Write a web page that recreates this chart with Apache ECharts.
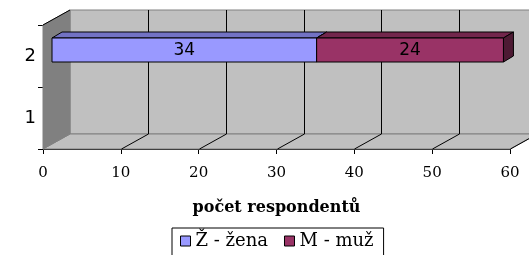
<!DOCTYPE html>
<html>
<head>
<meta charset="utf-8">
<script src="https://cdn.jsdelivr.net/npm/echarts@6/dist/echarts.min.js"></script>
<style>
  html, body { margin: 0; padding: 0; background: #fff; }
  #chart { width: 529px; height: 255px; }
</style>
</head>
<body>
<div id="chart"></div>
<script>
// data
var categories = ['1', '2']
var seriesNames = ['Ž - žena', 'M - muž']
var zeny = [null, 34]
var muzi = [null, 24]
var xTicks = [0, 10, 20, 30, 40, 50, 60]

// 3d look (Excel style)
var DX = 27, DY = -15        // depth of walls
var BX = 9, BY = -6          // front face of the bar behind the axis plane
var BDX = 10, BDY = -6       // depth of the bar itself
var BAR_H = 24

var colors = {
  front: ['#9999FF', '#993366'],
  top: ['#7272C4', '#72264C'],
  side: ['#6060AA', '#4D1A33']
}

var chart = echarts.init(document.getElementById('chart'))

function wallsRender(params, api) {
  var cs = params.coordSys
  var x0 = cs.x, y0 = cs.y, x1 = cs.x + cs.width, y1 = cs.y + cs.height
  var children = []
  // back wall
  children.push({
    type: 'polygon',
    shape: { points: [[x0 + DX, y0 + DY], [x1 + DX, y0 + DY], [x1 + DX, y1 + DY], [x0 + DX, y1 + DY]] },
    style: { fill: '#C0C0C0', stroke: '#808080', lineWidth: 1 }
  })
  // floor
  children.push({
    type: 'polygon',
    shape: { points: [[x0, y1], [x1, y1], [x1 + DX, y1 + DY], [x0 + DX, y1 + DY]] },
    style: { fill: '#C0C0C0', stroke: '#808080', lineWidth: 1 }
  })
  // left wall
  children.push({
    type: 'polygon',
    shape: { points: [[x0, y0], [x0 + DX, y0 + DY], [x0 + DX, y1 + DY], [x0, y1]] },
    style: { fill: '#808080', stroke: '#808080', lineWidth: 1 }
  })
  children.push({
    type: 'line',
    shape: { x1: x0, y1: y0, x2: x0 + DX, y2: y0 + DY },
    style: { stroke: '#000', lineWidth: 1 }
  })
  // grid lines on back wall and floor
  xTicks.forEach(function (t) {
    if (t === 0) return
    var px = Math.round(api.coord([t, 0])[0]) + 0.5
    children.push({
      type: 'line',
      shape: { x1: px + DX, y1: y0 + DY, x2: px + DX, y2: y1 + DY },
      style: { stroke: '#000', lineWidth: 1 }
    })
    children.push({
      type: 'line',
      shape: { x1: px, y1: y1, x2: px + DX, y2: y1 + DY },
      style: { stroke: '#000', lineWidth: 1 }
    })
  })
  return { type: 'group', children: children }
}

function barRender(idx) {
  return function (params, api) {
    var base = api.value(0)
    var val = api.value(1)
    var cat = api.value(2)
    if (val == null || isNaN(val)) return
    var p0 = api.coord([base, cat])
    var p1 = api.coord([base + val, cat])
    var xa = p0[0] + BX, xb = p1[0] + BX
    var yt = p0[1] + BY - BAR_H / 2, yb = yt + BAR_H
    var line = { stroke: '#000', lineWidth: 1, lineJoin: 'round' }
    var children = [
      {
        type: 'polygon',
        shape: { points: [[xa, yt], [xb, yt], [xb + BDX, yt + BDY], [xa + BDX, yt + BDY]] },
        style: Object.assign({ fill: colors.top[idx] }, line)
      },
      {
        type: 'polygon',
        shape: { points: [[xb, yt], [xb + BDX, yt + BDY], [xb + BDX, yb + BDY], [xb, yb]] },
        style: Object.assign({ fill: colors.side[idx] }, line)
      },
      {
        type: 'rect',
        shape: { x: xa, y: yt, width: xb - xa, height: BAR_H },
        style: Object.assign({ fill: colors.front[idx] }, line)
      },
      {
        type: 'text',
        x: (xa + xb) / 2,
        y: (yt + yb) / 2 + 1,
        style: {
          text: String(val),
          fill: '#000',
          font: '17px "DejaVu Sans"',
          align: 'center',
          verticalAlign: 'middle'
        }
      }
    ]
    return { type: 'group', children: children }
  }
}

var dataZ = categories.map(function (c, i) { return [0, zeny[i], i] })
var dataM = categories.map(function (c, i) { return [zeny[i] || 0, muzi[i], i] })

chart.setOption({
  animation: false,
  grid: { left: 43, right: 19, top: 25, bottom: 106 },
  xAxis: {
    type: 'value',
    min: 0,
    max: 60,
    interval: 10,
    name: 'počet respondentů',
    nameLocation: 'middle',
    nameGap: 51,
    nameTextStyle: { fontFamily: 'DejaVu Serif', fontWeight: 'bold', fontSize: 16, color: '#000' },
    axisLine: { show: true, lineStyle: { color: '#000' } },
    axisTick: { show: true, length: 5, lineStyle: { color: '#000' } },
    axisLabel: { fontFamily: 'DejaVu Serif', fontSize: 15, color: '#000', margin: 17 },
    splitLine: { show: false }
  },
  yAxis: {
    type: 'category',
    data: categories,
    axisLine: { show: true, lineStyle: { color: '#000' } },
    axisTick: { show: true, length: 5, lineStyle: { color: '#000' } },
    axisLabel: { fontFamily: 'DejaVu Sans', fontSize: 18, color: '#000', margin: 7 },
    splitLine: { show: false }
  },
  legend: {
    data: seriesNames,
    left: 172,
    top: 228,
    padding: [4, 10, 6, 8],
    itemGap: 16,
    itemWidth: 10,
    itemHeight: 10,
    icon: 'rect',
    borderColor: '#000',
    borderWidth: 1,
    itemStyle: { borderColor: '#000', borderWidth: 1 },
    textStyle: { fontFamily: 'DejaVu Serif', fontSize: 18, color: '#000' }
  },
  series: [
    {
      type: 'custom',
      name: 'walls',
      z: 1,
      silent: true,
      renderItem: wallsRender,
      data: [[0, 0]]
    },
    {
      type: 'custom',
      name: seriesNames[0],
      z: 3,
      itemStyle: { color: colors.front[0] },
      encode: { x: [0, 1], y: 2 },
      renderItem: barRender(0),
      data: dataZ
    },
    {
      type: 'custom',
      name: seriesNames[1],
      z: 3,
      itemStyle: { color: colors.front[1] },
      encode: { x: [0, 1], y: 2 },
      renderItem: barRender(1),
      data: dataM
    }
  ]
})
</script>
</body>
</html>
